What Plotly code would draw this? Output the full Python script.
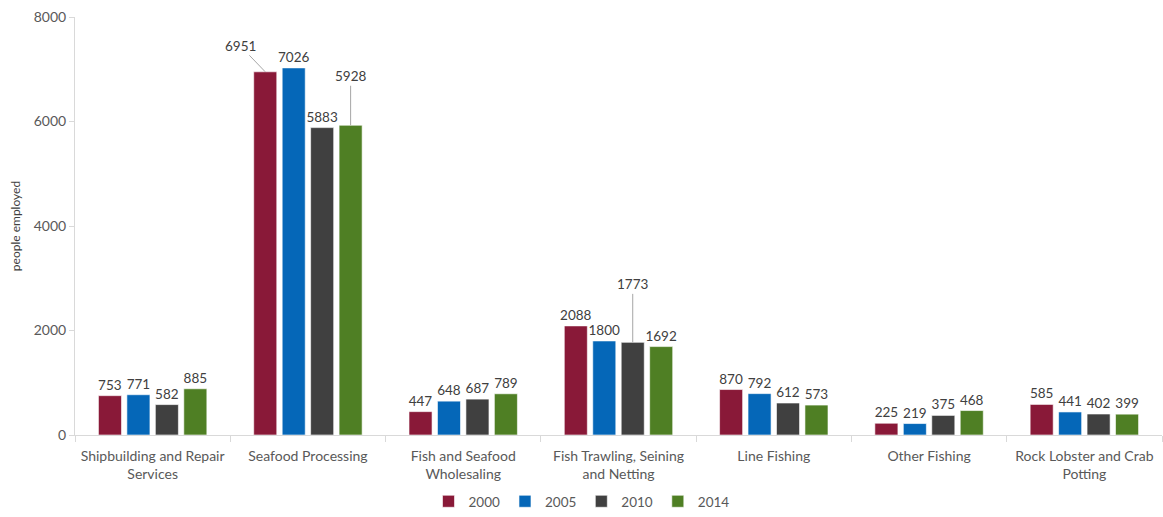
import plotly.graph_objects as go

categories = ["Shipbuilding and Repair<br>Services", "Seafood Processing", "Fish and Seafood<br>Wholesaling",
              "Fish Trawling, Seining<br>and Netting", "Line Fishing", "Other Fishing", "Rock Lobster and Crab<br>Potting"]
years = ["2000", "2005", "2010", "2014"]
v2000 = [753, 6951, 447, 2088, 870, 225, 585]
v2005 = [771, 7026, 648, 1800, 792, 219, 441]
v2010 = [582, 5883, 687, 1773, 612, 375, 402]
v2014 = [885, 5928, 789, 1692, 573, 468, 399]
colors = ["#891938", "#0567B8", "#404040", "#4F7F24"]
yticks = [0, 2000, 4000, 6000, 8000]

series = [v2000, v2005, v2010, v2014]
# labels drawn with leader lines: (series index, category index, ax, ay)
leaders = [(0, 1, -25, -26), (3, 1, 0, -49), (2, 3, 0, -58)]
leader_set = {(s, c) for s, c, _, _ in leaders}

FONT = "Lato"
bargap = 0.267
fig = go.Figure()
for si, (yr, vals, col) in enumerate(zip(years, series, colors)):
    texts = ["" if (si, ci) in leader_set else str(v) for ci, v in enumerate(vals)]
    fig.add_trace(go.Bar(
        name=yr, x=categories, y=vals, marker_color=col,
        marker_line=dict(color="white", width=0.6),
        text=texts, textposition="outside", cliponaxis=False, constraintext="none",
        textfont=dict(family=FONT, size=13.5, color="#404040"),
    ))

slot = (1 - bargap) / len(years)
for si, ci, ax, ay in leaders:
    v = series[si][ci]
    fig.add_annotation(
        x=ci + (si - 1.5) * slot, y=v, xref="x", yref="y",
        text=str(v), showarrow=True, arrowhead=0, arrowwidth=1, arrowcolor="#A6A6A6",
        ax=ax, ay=ay, font=dict(family=FONT, size=13.5, color="#404040"),
    )

fig.update_layout(
    width=1163, height=517,
    margin=dict(l=75, r=1, t=17, b=82),
    barmode="group", bargap=bargap, bargroupgap=0.19,
    plot_bgcolor="white", paper_bgcolor="white",
    font=dict(family=FONT, size=13.5, color="#595959"),
    legend=dict(orientation="h", x=0.5, xanchor="center", y=0, yanchor="bottom",
                xref="container", yref="container",
                font=dict(family=FONT, size=13.5, color="#595959"),
                itemwidth=30, tracegroupgap=0),
    showlegend=True,
)
fig.update_xaxes(
    showline=True, linecolor="#D9D9D9", linewidth=1,
    ticks="outside", tickson="boundaries", ticklen=6, tickcolor="#D9D9D9",
    ticklabelstandoff=8,
    tickfont=dict(family=FONT, size=14, color="#595959"), showgrid=False,
)
fig.update_yaxes(
    range=[0, 8000], tickvals=yticks, showline=True, linecolor="#D9D9D9", linewidth=1,
    ticks="outside", ticklen=5, tickcolor="#D9D9D9", showgrid=False, zeroline=False,
    tickfont=dict(family=FONT, size=14, color="#595959"),
    title=dict(text="people employed", font=dict(family=FONT, size=12, color="#404040"), standoff=10),
)
fig.write_html("out.html")
